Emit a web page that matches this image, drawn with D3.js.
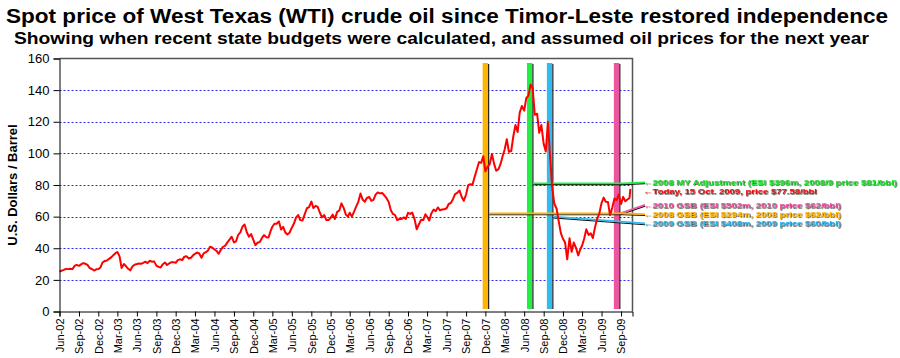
<!DOCTYPE html>
<meta charset="utf-8">
<html>
<head>
<style>
  body { margin: 0; background: #fff; }
  svg { font-family: Arial, "Liberation Sans", sans-serif; }
  .grid line { stroke: #2a2af0; stroke-dasharray: 2,2; stroke-width: 1; }
  .axis path, .axis line { stroke: #000; }
  .axis text { fill: #000; }
  .price { fill: none; stroke: #ff0000; stroke-width: 2px; stroke-linejoin: round; }
</style>
</head>
<body>
<svg width="900" height="358"></svg>
<script src="https://d3js.org/d3.v7.min.js"></script>
<script>

// WTI spot price, three readings a month (1st, 11th, 21st), Jun 2002 - Oct 2009
var startMonth = "2002-06";
var prices2002 = [25.2, 25.8, 26.3, 26.9, 26.8, 27.0, 26.8, 28.8, 29.5, 28.9, 29.8, 30.6,
                  30.2, 29.5, 27.5, 26.9, 25.9, 26.7, 26.8, 27.8, 31.0];
var prices2003 = [32.0, 32.2, 33.3, 34.4, 35.8, 37.0, 37.6, 35.0, 27.5, 30.0, 28.6, 27.0,
                  26.0, 28.5, 29.6, 30.0, 30.4, 30.2, 30.8, 31.5, 30.6, 32.1, 31.5, 31.7,
                  29.0, 28.2, 27.8, 29.8, 31.0, 29.4, 30.5, 31.2, 31.2, 30.8, 32.5, 33.0];
var prices2004 = [32.5, 34.7, 35.0, 33.5, 34.0, 35.5, 36.5, 37.3, 36.7, 34.0, 36.8, 37.5,
                  38.5, 41.0, 40.5, 39.2, 38.3, 36.5, 39.0, 40.9, 41.5, 43.7, 45.5, 47.3,
                  43.7, 44.4, 48.5, 50.0, 53.6, 55.0, 50.0, 47.3, 49.0, 45.5, 42.0, 43.5];
var prices2005 = [44.0, 46.5, 48.3, 47.0, 46.8, 51.0, 53.6, 55.5, 55.5, 57.0, 51.8, 53.5,
                  50.0, 48.7, 49.8, 53.0, 55.6, 59.5, 61.0, 57.8, 57.5, 61.6, 65.3, 66.0,
                  69.5, 65.4, 66.8, 66.2, 62.6, 59.5, 61.0, 57.8, 57.8, 59.2, 61.3, 58.5];
var prices2006 = [63.0, 63.9, 68.4, 65.4, 61.2, 60.0, 62.5, 60.0, 63.0, 66.5, 69.5, 74.6,
                  70.8, 69.4, 71.8, 72.4, 70.0, 70.6, 73.9, 75.3, 74.7, 75.0, 73.5, 71.8,
                  69.2, 64.0, 61.7, 61.0, 57.8, 58.5, 58.5, 59.5, 58.6, 62.4, 61.7, 62.5];
var prices2007 = [58.3, 52.0, 55.0, 58.0, 57.8, 61.5, 60.0, 57.5, 62.0, 64.5, 63.5, 65.8,
                  64.0, 64.5, 64.6, 65.3, 68.0, 68.6, 71.0, 74.2, 75.0, 76.5, 72.6, 70.0,
                  74.0, 79.9, 80.5, 80.0, 85.0, 89.5, 94.5, 94.0, 98.2, 88.7, 91.5, 93.0];
var prices2008 = [99.6, 93.5, 89.0, 90.0, 93.5, 98.5, 102.5, 109.0, 101.0, 101.5, 111.0, 118.0,
                  113.5, 125.8, 130.0, 127.0, 135.0, 136.5, 143.5, 141.3, 124.5, 125.1, 113.0, 118.0,
                  106.0, 101.2, 120.0, 98.5, 78.6, 68.3, 65.0, 57.0, 49.6, 46.0, 43.6, 33.0];
var prices2009 = [46.3, 37.8, 43.6, 40.0, 35.5, 39.4, 41.6, 46.0, 52.0, 48.4, 49.4, 46.5,
                  53.2, 58.5, 61.7, 68.6, 72.0, 69.4, 69.3, 61.0, 65.4, 71.4, 70.5, 73.9,
                  68.0, 72.5, 69.7, 70.8, 71.8];
var todayDate = "2009-10-15";
var todayPrice = 77.58;

// state budgets: when calculated and the assumed oil price
var budgetNames  = ["2008 GSB", "2008 MY Adjustment", "2009 GSB", "2010 GSB"];
var budgetDates  = ["2007-12-01", "2008-06-27", "2008-09-29", "2009-08-11"];
var budgetPrices = [62, 81, 60, 62];
var budgetColors = ["#ffb400", "#22ee44", "#33bbee", "#ee559f"];

// annotation labels at the right, top to bottom
var noteTexts = ["2008 MY Adjustment (ESI $396m, 2008/9 price $81/bbl)",
                 "Today, 15 Oct. 2009, price $77.58/bbl",
                 "2010 GSB (ESI $502m, 2010 price $62/bbl)",
                 "2008 GSB (ESI $294m, 2008 price $62/bbl)",
                 "2009 GSB (ESI $408m, 2009 price $60/bbl)"];
var noteBudget = [1, -1, 3, 0, 2];   // index into budgets, -1 = today
var noteColors = ["#22dd33", "#ee1111", "#ee4fa0", "#ffb400", "#22b4ee"];

var yTicks = [0, 20, 40, 60, 80, 100, 120, 140, 160];

// ---------------------------------------------------------------
var svg = d3.select("svg");
var parse = d3.utcParse("%Y-%m-%d");

// drop shadow for the annotation text
var f = svg.append("defs").append("filter").attr("id", "shadow")
    .attr("x", "-5%").attr("y", "-30%").attr("width", "110%").attr("height", "160%");
f.append("feDropShadow").attr("dx", 0.7).attr("dy", 0.7)
    .attr("stdDeviation", 0).attr("flood-color", "#222").attr("flood-opacity", 0.9);

// build the series
var allPrices = [].concat(prices2002, prices2003, prices2004, prices2005,
                          prices2006, prices2007, prices2008, prices2009);
var m0 = d3.utcParse("%Y-%m")(startMonth);
var days = [1, 11, 21];
var data = allPrices.map(function (p, i) {
  var m = d3.utcMonth.offset(m0, Math.floor(i / 3));
  return { date: new Date(Date.UTC(m.getUTCFullYear(), m.getUTCMonth(), days[i % 3])), price: p };
});
data.push({ date: parse(todayDate), price: todayPrice });

var plot = { left: 59.5, right: 632.5, top: 58.5, bottom: 311.5 };

var x = d3.scaleUtc()
    .domain([Date.UTC(2002, 5, 1), Date.UTC(2009, 9, 25)])
    .range([plot.left, plot.right]);
var y = d3.scaleLinear().domain([0, 160]).range([plot.bottom, plot.top]);

// titles
svg.append("text")
    .attr("x", 6).attr("y", 23)
    .attr("textLength", 882).attr("lengthAdjust", "spacingAndGlyphs")
    .style("font-size", "20px").style("font-weight", "bold")
    .text("Spot price of West Texas (WTI) crude oil since Timor-Leste restored independence");
svg.append("text")
    .attr("x", 14).attr("y", 44)
    .attr("textLength", 855).attr("lengthAdjust", "spacingAndGlyphs")
    .style("font-size", "16.5px").style("font-weight", "bold")
    .text("Showing when recent state budgets were calculated, and assumed oil prices for the next year");

// y label
svg.append("text")
    .attr("transform", "translate(17," + ((plot.top + plot.bottom) / 2) + ") rotate(-90)")
    .attr("text-anchor", "middle")
    .style("font-size", "13px").style("font-weight", "bold")
    .text("U.S. Dollars / Barrel");

// grid
svg.append("g").attr("class", "grid")
  .selectAll("line")
  .data(yTicks.filter(function (d) { return d > 0 && d < 160; }))
  .join("line")
    .attr("x1", plot.left).attr("x2", plot.right)
    .attr("y1", function (d) { return Math.round(y(d)) + 0.5; })
    .attr("y2", function (d) { return Math.round(y(d)) + 0.5; });

// plot frame (top and right)
svg.append("path")
    .attr("d", "M" + plot.left + "," + plot.top + "H" + plot.right + "V" + plot.bottom)
    .attr("fill", "none").attr("stroke", "#555").attr("stroke-width", 1.5);

// budget bars
var barW = 5.5;
var bars = svg.append("g");
budgetDates.forEach(function (d, i) {
  var cx = x(parse(d));
  bars.append("rect")
      .attr("x", cx - barW / 2).attr("y", 63)
      .attr("width", barW).attr("height", 246)
      .attr("fill", budgetColors[i]);
  bars.append("line")
      .attr("x1", cx + barW / 2 + 0.5).attr("x2", cx + barW / 2 + 0.5)
      .attr("y1", 64).attr("y2", 309)
      .attr("stroke", "#222").attr("stroke-width", 1.2);
});

// leader lines + labels
var noteX = 643;
var noteNudge = [-1, 2.5, -8.6, 0.7, 6.8];
var noteLen = [254, 174, 198, 198, 198];
var leaders = svg.append("g");
noteTexts.forEach(function (t, j) {
  var b = noteBudget[j];
  var py = b >= 0 ? y(budgetPrices[b]) : y(todayPrice);
  var ly = py + noteNudge[j];
  if (b >= 0) {
    var x0 = x(parse(budgetDates[b])) + barW / 2 + 1;
    var pts = [[x0, py], [noteX + 2, ly]];
    if (b === 0 || b === 1) pts = [[x0, py], [noteX - 20, py], [noteX + 2, ly]];
    leaders.append("path")
        .attr("d", d3.line()(pts.map(function (p) { return [p[0], p[1] + 1.3]; })))
        .attr("fill", "none").attr("stroke", "#111").attr("stroke-width", 1.2);
    leaders.append("path")
        .attr("d", d3.line()(pts))
        .attr("fill", "none").attr("stroke", budgetColors[b]).attr("stroke-width", 1.8);
  }
  svg.append("text")
      .attr("x", noteX).attr("y", ly + 3)
      .attr("textLength", noteLen[j]).attr("lengthAdjust", "spacingAndGlyphs")
      .attr("filter", "url(#shadow)")
      .style("font-size", "8px").style("font-weight", "bold")
      .attr("fill", noteColors[j]).text("\u2190" + t);
});

// price line
svg.append("path")
    .datum(data)
    .attr("class", "price")
    .attr("d", d3.line()
        .x(function (d) { return x(d.date); })
        .y(function (d) { return y(d.price); }));

// axes
svg.append("g")
    .attr("class", "axis")
    .attr("transform", "translate(" + plot.left + ",0)")
    .call(d3.axisLeft(y).tickValues(yTicks).tickSizeOuter(0).tickSize(6).tickPadding(4))
    .call(function (g) { g.selectAll("text").style("font-size", "13px").style("font-family", "Arial, 'Liberation Sans', sans-serif"); });

var xTicks = d3.utcMonth.range(new Date(Date.UTC(2002, 5, 1)), new Date(Date.UTC(2009, 9, 1)), 3);
svg.append("g")
    .attr("class", "axis")
    .attr("transform", "translate(0," + plot.bottom + ")")
    .call(d3.axisBottom(x).tickValues(xTicks).tickFormat(d3.utcFormat("%b-%y")).tickSizeOuter(0).tickSize(5))
    .call(function (g) {
      g.selectAll("text")
          .style("font-size", "11px")
          .style("font-family", "Arial, 'Liberation Sans', sans-serif")
          .attr("text-anchor", "end")
          .attr("transform", "rotate(-90)")
          .attr("x", -7).attr("y", 0).attr("dy", "0.35em");
    });

</script>
</body>
</html>
